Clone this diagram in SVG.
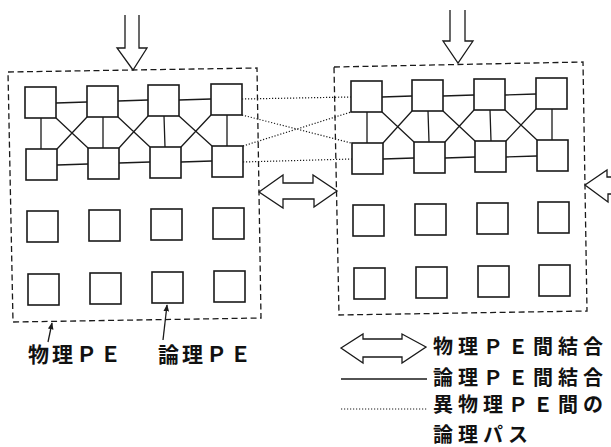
<svg xmlns="http://www.w3.org/2000/svg" width="611" height="447" viewBox="0 0 611 447">
<style>
.pe{fill:#fff;stroke:#1a1a1a;stroke-width:1.6}
.ln{stroke:#1a1a1a;stroke-width:1.3;fill:none}
.dot{stroke:#1a1a1a;stroke-width:1.2;fill:none;stroke-dasharray:1.2 1.8}
.dash{stroke:#1a1a1a;stroke-width:1.3;fill:none;stroke-dasharray:6 3.5}
.arr{fill:#fff;stroke:#1a1a1a;stroke-width:1.3;stroke-linejoin:miter}
.t{font-family:"Noto Sans CJK JP","Noto Sans CJK SC",sans-serif;font-size:21px;font-weight:bold;fill:#111}
.lg{font-size:20px}
.lat{font-weight:bold}
</style>
<defs>
<marker id="ah" viewBox="0 0 10 10" refX="9" refY="5" markerWidth="7" markerHeight="7" orient="auto" markerUnits="userSpaceOnUse">
<path d="M0,1 L10,5 L0,9 Z" fill="#1a1a1a"/>
</marker>
</defs>
<rect width="611" height="447" fill="#fff"/>

<g id="physical-pe-left">
<path class="dash" d="M8,72 L257,68 L261,318 L13,322 Z"/>
</g>
<g id="physical-pe-right">
<path class="dash" d="M334,67 L583,62 L587,311 L339,315 Z"/>
</g>

<g id="input-arrow-left"><path class="arr" d="M125,15 V48 H117 L133,70 L147,48 H139 V15"/></g>
<g id="input-arrow-right"><path class="arr" d="M450,10 V41 H443 L458,63 L473,41 H465 V10"/></g>
<g id="link-arrow-middle"><path class="arr" d="M259,192 L283,175 V183 H313 V175 L337,191 L314,207 V199 H283 V208 Z"/></g>
<g id="link-arrow-right"><path class="arr" d="M611,177 H607 V170 L585,185 L608,202 V194 H611"/></g>

<g id="connectors">
<path class="ln" d="M56,103 L87,102 M118,101 L148,100 M179,100 L211,99"/>
<path class="ln" d="M57,165 L88,164 M119,163 L150,162 M181,162 L212,161"/>
<path class="ln" d="M41,118 L41,149 M103,117 L103,148 M164,116 L165,147 M227,115 L227,146"/>
<path class="ln" d="M56,118 L88,148 M87,117 L57,149 M118,117 L150,147 M148,116 L119,148 M179,116 L212,146 M211,115 L181,147"/>
<path class="ln" d="M382,97 L412,96 M443,96 L474,95 M505,95 L536,94"/>
<path class="ln" d="M383,159 L414,158 M445,158 L475,157 M506,157 L537,156"/>
<path class="ln" d="M367,112 L367,143 M428,111 L429,142 M490,110 L491,141 M552,109 L552,140"/>
<path class="ln" d="M382,112 L414,142 M412,111 L383,143 M443,111 L475,141 M474,110 L445,142 M505,110 L537,140 M536,109 L506,141"/>
<path class="dot" d="M242,99 L351,97 M242,115 L351,143 M243,146 L351,112 M243,162 L352,159"/>
<path class="ln" d="M48,342 L52,323" marker-end="url(#ah)"/>
<path class="ln" d="M163,340 L167,305" marker-end="url(#ah)"/>
</g>

<g id="pe-left-r1">
<rect id="L11" class="pe" x="25" y="87" width="31" height="31"/>
<rect id="L12" class="pe" x="87" y="86" width="31" height="31"/>
<rect id="L13" class="pe" x="148" y="85" width="31" height="31"/>
<rect id="L14" class="pe" x="211" y="84" width="31" height="31"/>
</g>
<g id="pe-left-r2">
<rect id="L21" class="pe" x="26" y="149" width="31" height="31"/>
<rect id="L22" class="pe" x="88" y="148" width="31" height="31"/>
<rect id="L23" class="pe" x="150" y="147" width="31" height="31"/>
<rect id="L24" class="pe" x="212" y="146" width="31" height="31"/>
</g>
<g id="pe-left-r3">
<rect id="L31" class="pe" x="27" y="211" width="31" height="31"/>
<rect id="L32" class="pe" x="89" y="210" width="31" height="31"/>
<rect id="L33" class="pe" x="151" y="209" width="31" height="31"/>
<rect id="L34" class="pe" x="213" y="208" width="31" height="31"/>
</g>
<g id="pe-left-r4">
<rect id="L41" class="pe" x="28" y="274" width="31" height="31"/>
<rect id="L42" class="pe" x="90" y="273" width="31" height="31"/>
<rect id="L43" class="pe" x="152" y="272" width="31" height="31"/>
<rect id="L44" class="pe" x="214" y="271" width="31" height="31"/>
</g>
<g id="pe-right-r1">
<rect id="R11" class="pe" x="351" y="81" width="31" height="31"/>
<rect id="R12" class="pe" x="412" y="80" width="31" height="31"/>
<rect id="R13" class="pe" x="474" y="79" width="31" height="31"/>
<rect id="R14" class="pe" x="536" y="78" width="31" height="31"/>
</g>
<g id="pe-right-r2">
<rect id="R21" class="pe" x="352" y="143" width="31" height="31"/>
<rect id="R22" class="pe" x="414" y="142" width="31" height="31"/>
<rect id="R23" class="pe" x="475" y="141" width="31" height="31"/>
<rect id="R24" class="pe" x="537" y="140" width="31" height="31"/>
</g>
<g id="pe-right-r3">
<rect id="R31" class="pe" x="353" y="205" width="31" height="31"/>
<rect id="R32" class="pe" x="415" y="204" width="31" height="31"/>
<rect id="R33" class="pe" x="477" y="203" width="31" height="31"/>
<rect id="R34" class="pe" x="538" y="202" width="31" height="31"/>
</g>
<g id="pe-right-r4">
<rect id="R41" class="pe" x="354" y="268" width="31" height="31"/>
<rect id="R42" class="pe" x="416" y="267" width="31" height="31"/>
<rect id="R43" class="pe" x="478" y="266" width="31" height="31"/>
<rect id="R44" class="pe" x="539" y="265" width="31" height="31"/>
</g>

<g id="labels">
<text class="t" x="28" y="362" letter-spacing="3">物理<tspan class="lat">ＰＥ</tspan></text>
<text class="t" x="158" y="362" letter-spacing="3">論理<tspan class="lat">ＰＥ</tspan></text>
</g>

<g id="legend">
<path class="arr" d="M341,348 L363,334 V339 H402 V334 L426,347 L402,363 V357 H363 V363 Z"/>
<line class="ln" x1="341" y1="379" x2="427" y2="379"/>
<line class="dot" x1="341" y1="409" x2="428" y2="409"/>
<text class="t lg" x="433" y="354" letter-spacing="5">物理<tspan class="lat">ＰＥ</tspan>間結合</text>
<text class="t lg" x="433" y="385" letter-spacing="5">論理<tspan class="lat">ＰＥ</tspan>間結合</text>
<text class="t lg" x="433" y="412" letter-spacing="5">異物理<tspan class="lat">ＰＥ</tspan>間の</text>
<text class="t lg" x="433" y="442" letter-spacing="5">論理パス</text>
</g>
</svg>
